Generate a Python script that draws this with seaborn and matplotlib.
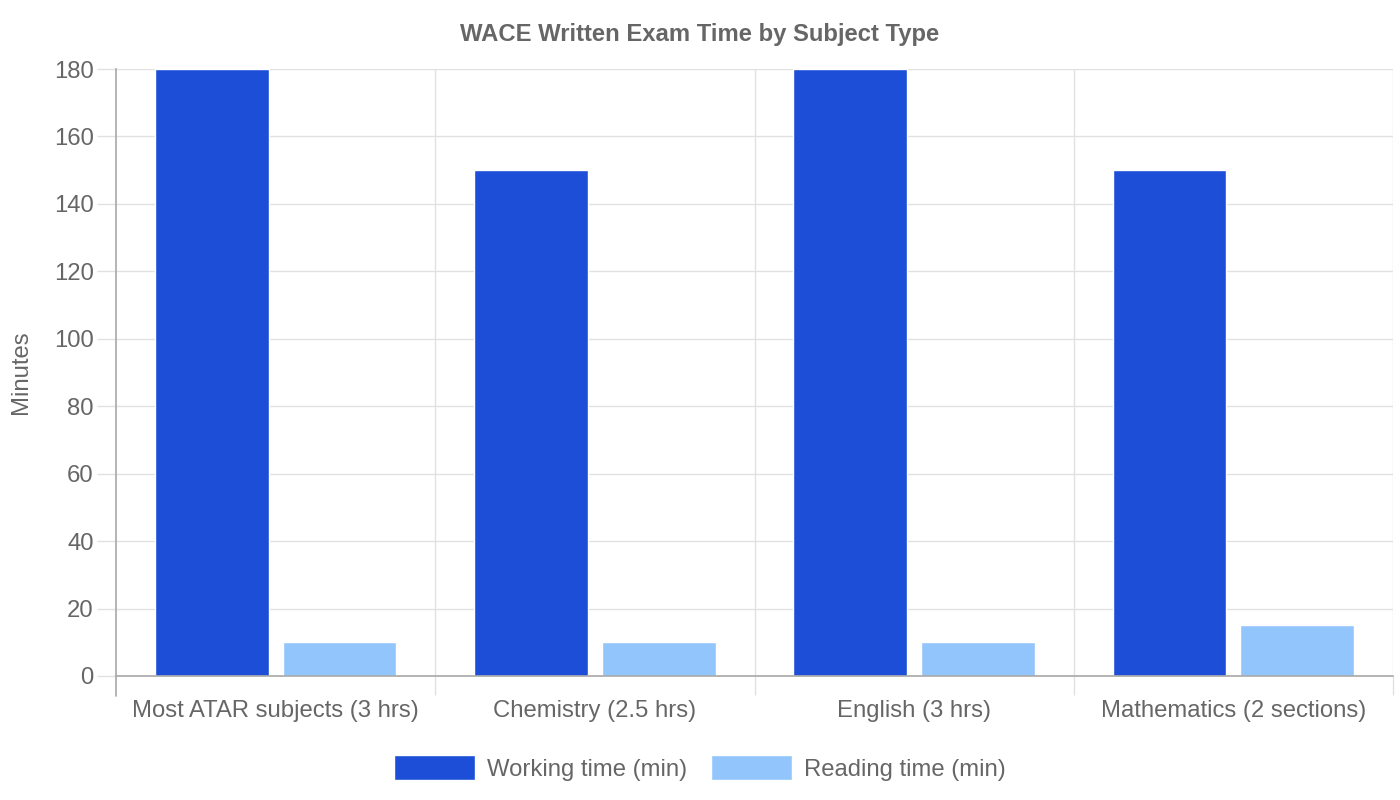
import seaborn as sns
import pandas as pd
import matplotlib.pyplot as plt
from matplotlib.patches import Patch

subjects = ['Most ATAR subjects (3 hrs)', 'Chemistry (2.5 hrs)', 'English (3 hrs)', 'Mathematics (2 sections)']
working_time = [180, 150, 180, 150]
reading_time = [10, 10, 10, 15]
series = ['Working time (min)', 'Reading time (min)']
colors = ['#1d4ed8', '#93c5fd']

data = pd.DataFrame({
    'subject': subjects * 2,
    'minutes': working_time + reading_time,
    'series': [series[0]] * len(subjects) + [series[1]] * len(subjects),
})

sns.set_theme(style='white')
plt.rcParams['font.family'] = ['Liberation Sans', 'DejaVu Sans']
text_col = '#666666'
grid_col = '#e1e1e1'
axis_col = '#a8a8a8'
fs = 17.2

fig = plt.figure(figsize=(14, 8), dpi=100)
ax = fig.add_axes([116 / 1400, 124 / 800, 1277 / 1400, 607 / 800])

sns.barplot(data=data, x='subject', y='minutes', hue='series', palette=colors,
            width=0.8, gap=0.11, ax=ax, legend=False, saturation=1)

ax.set_xlim(-0.5, 3.5)
ax.set_ylim(0, 180)
ax.set_yticks(range(0, 181, 20))
ax.set_xticks(range(len(subjects)))
ax.set_xticks([0.5, 1.5, 2.5, 3.5], minor=True)
ax.set_xticklabels(subjects, color=text_col, fontsize=fs)
ax.tick_params(axis='x', which='major', bottom=False, length=0, pad=17)
ax.tick_params(axis='x', which='minor', bottom=True, length=14, width=1, color=grid_col)
ax.tick_params(axis='y', left=True, length=14, width=1, color=grid_col, labelcolor=text_col,
               labelsize=fs, pad=2)
ax.grid(axis='y', color=grid_col, linewidth=1)
ax.grid(axis='x', which='minor', color=grid_col, linewidth=1)
ax.set_axisbelow(True)

for side in ['top', 'right']:
    ax.spines[side].set_visible(False)
for side in ['left', 'bottom']:
    ax.spines[side].set_color(axis_col)
    ax.spines[side].set_linewidth(1.2)
# left axis line runs on below the bottom axis, like the category ticks
ax.spines['left'].set_bounds(0, 180)
ax.plot([-0.5, -0.5], [0, -6], color=axis_col, linewidth=1.2, clip_on=False)

ax.set_xlabel('')
ax.set_ylabel('Minutes', color=text_col, fontsize=fs, labelpad=16)

fig.suptitle('WACE Written Exam Time by Subject Type', x=0.5, y=1 - 35 / 800, va='center',
             fontsize=fs, fontweight='bold', color=text_col)

handles = [Patch(facecolor=c, label=s) for c, s in zip(colors, series)]
fig.legend(handles=handles, loc='center', bbox_to_anchor=(0.5, 1 - 768 / 800), ncol=2,
           frameon=False, fontsize=fs, labelcolor=text_col, handlelength=3.4,
           handleheight=1.2, handletextpad=0.5, columnspacing=1.0)

fig.savefig('out.png', dpi=100)
